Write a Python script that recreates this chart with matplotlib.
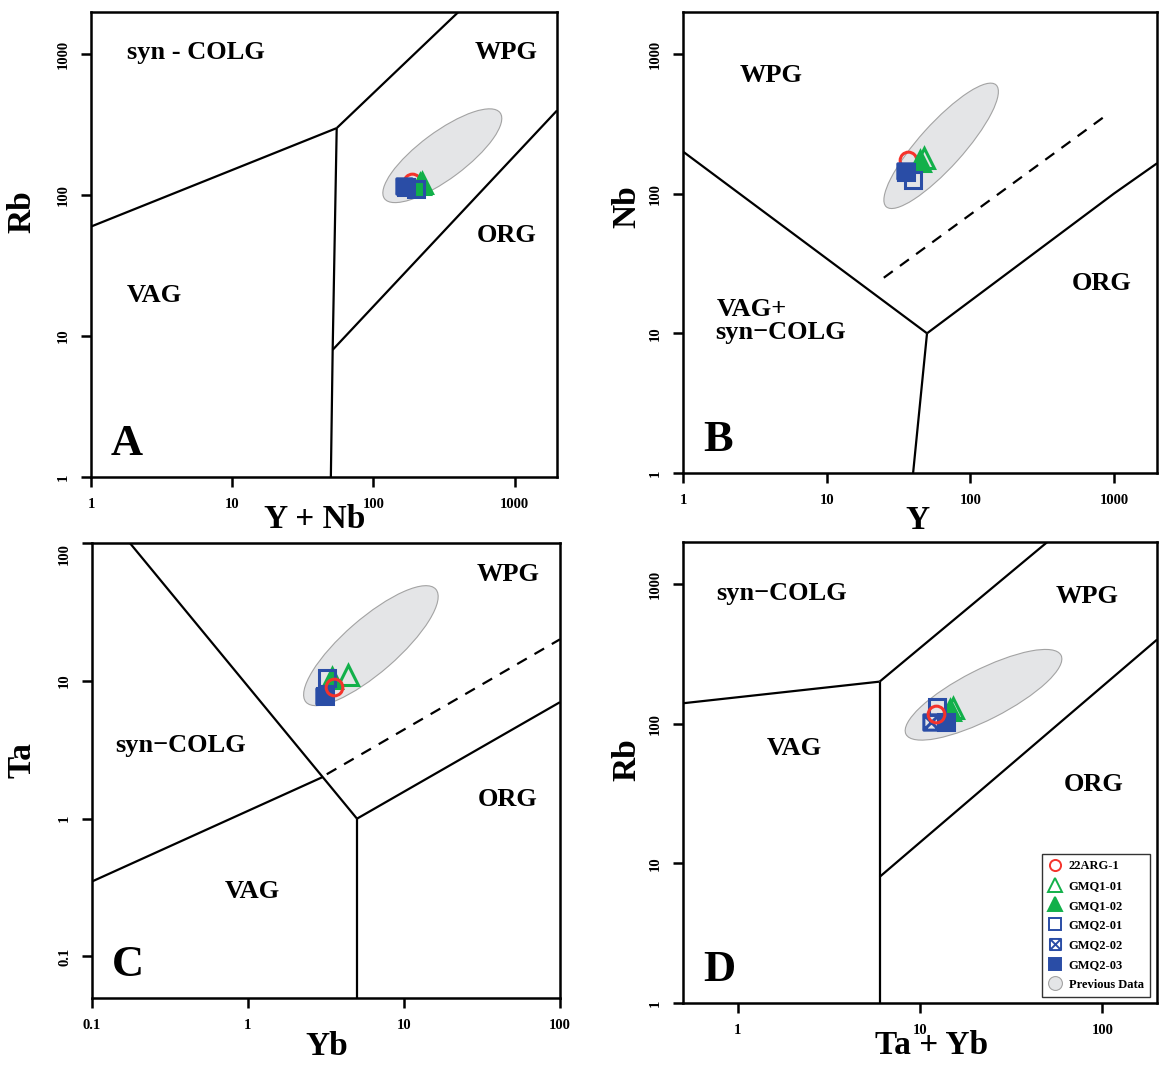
#! /usr/bin/env python
"""
plot.py - Pearce et al. (1984) granite discrimination diagrams
"""

import numpy as np
import matplotlib
matplotlib.use('Agg')
import matplotlib.pyplot as plt
from matplotlib.path import Path
from matplotlib.patches import Ellipse
from matplotlib.lines import Line2D
from matplotlib import transforms
from matplotlib.ticker import FixedLocator, FixedFormatter, NullLocator

plt.rcParams['font.family'] = ['Liberation Serif', 'DejaVu Serif']
plt.rcParams['font.weight'] = 'bold'
plt.rcParams['axes.labelweight'] = 'bold'

samples = ['22ARG-1', 'GMQ1-01', 'GMQ1-02', 'GMQ2-01', 'GMQ2-02', 'GMQ2-03']

# sample values, same order as samples
a_x = [189, 222, 215, 199, 166, 170]        # Y + Nb
a_y = [125, 123, 121, 110, 117, 115]        # Rb
b_x = [36.8, 47.5, 45.0, 39.9, 35.1, 35.5]  # Y
b_y = [175, 181, 172, 126, 146, 144]        # Nb
c_x = [3.56, 4.37, 3.45, 3.21, 3.07, 3.10]  # Yb
c_y = [8.98, 11.0, 10.4, 10.4, 7.73, 7.80]  # Ta
d_x = [12.3, 15.2, 14.6, 12.4, 11.5, 13.9]  # Ta + Yb
d_y = [118, 130, 126, 132, 102, 102]        # Rb

# field boundaries
a_lines = [([1, 55], [60, 300]),
           ([55, 400], [300, 2000]),
           ([55, 51.5, 50], [300, 8, 1]),
           ([51.5, 2000], [8, 400])]
b_lines = [([1, 50], [200, 10]),
           ([50, 1000, 2000], [10, 100, 165]),
           ([50, 40], [10, 1])]
b_dash = ([25, 920], [25, 375])
c_lines = [([0.175, 5], [100, 1]),
           ([0.1, 3], [0.35, 2]),
           ([5, 5], [1, 0.05]),
           ([5, 100], [1, 7])]
c_dash = ([3.2, 100], [2.1, 20])
d_lines = [([0.5, 6], [140, 200]),
           ([6, 50], [200, 2000]),
           ([6, 6], [200, 1]),
           ([6, 200], [8, 400])]

# previous data field: centre (data), semi axes (px), angle (deg)
a_ell = (308, 191, 72, 23.5, 36.6)
b_ell = (62.7, 220, 82, 22, 48)
c_ell = (6.14, 18.0, 86, 27, 41)
d_ell = (22.3, 161, 87, 25, 27)

a_ticks = ([1, 10, 100, 1000], [1, 10, 100, 1000])
b_ticks = ([1, 10, 100, 1000], [1, 10, 100, 1000])
c_ticks = ([0.1, 1, 10, 100], [0.1, 1, 10, 100])
d_ticks = ([1, 10, 100], [1, 10, 100, 1000])

a_fields = [('syn - COLG', 0.077, 0.914), ('WPG', 0.824, 0.914),
            ('ORG', 0.828, 0.520), ('VAG', 0.077, 0.391)]
b_fields = [('WPG', 0.120, 0.863), ('VAG+', 0.072, 0.354),
            ('syn\u2212COLG', 0.068, 0.304), ('ORG', 0.819, 0.410)]
c_fields = [('WPG', 0.823, 0.930), ('syn\u2212COLG', 0.049, 0.556),
            ('ORG', 0.825, 0.437), ('VAG', 0.284, 0.233)]
d_fields = [('syn\u2212COLG', 0.070, 0.889), ('WPG', 0.785, 0.881),
            ('VAG', 0.177, 0.551), ('ORG', 0.804, 0.473)]

red = '#f5332b'
green = '#12b04a'
blue = '#2a4da6'

xsq = Path([(-1, -1), (1, -1), (1, 1), (-1, 1), (-1, -1),
            (-1, -1), (1, 1), (-1, 1), (1, -1)],
           [Path.MOVETO, Path.LINETO, Path.LINETO, Path.LINETO, Path.CLOSEPOLY,
            Path.MOVETO, Path.LINETO, Path.MOVETO, Path.LINETO])

styles = [dict(marker='o', mfc='none', mec=red),
          dict(marker='^', mfc='none', mec=green),
          dict(marker='^', mfc=green, mec=green),
          dict(marker='s', mfc='none', mec=blue),
          dict(marker=xsq, mfc='none', mec=blue),
          dict(marker='s', mfc=blue, mec=blue)]
sizes = [12, 15, 15, 11, 11, 11]


def _plot_axis(fig, ax, xs, ys, lines, dash, ell, ticks, fields, letter,
               xlabel, ylabel, xlim, ylim, xlab_pos, ylab_pos, circle_top):
    ax.set_xscale('log')
    ax.set_yscale('log')
    ax.set_xlim(xlim)
    ax.set_ylim(ylim)

    cx, cy, sa, sb, ang = ell
    trans = fig.dpi_scale_trans + transforms.ScaledTranslation(cx, cy, ax.transData)
    ax.add_patch(Ellipse((0, 0), 2 * sa / fig.dpi, 2 * sb / fig.dpi, angle=ang,
                         transform=trans, facecolor='#e4e5e7',
                         edgecolor='#a3a3a3', lw=0.8, zorder=1))

    for lx, ly in lines:
        ax.plot(lx, ly, color='k', lw=1.6, zorder=2, solid_capstyle='butt')
    if dash is not None:
        ax.plot(dash[0], dash[1], color='k', lw=1.6, ls=(0, (5, 4)), zorder=2)

    for i in range(len(samples)):
        z = 4 + i
        if i == 0:
            z = 12 if circle_top else 3
        ax.plot(xs[i], ys[i], ls='none', ms=sizes[i], mew=2.2, zorder=z,
                **styles[i])

    for txt, fx, fy in fields:
        ax.text(fx, fy, txt, transform=ax.transAxes, fontsize=19,
                ha='left', va='center')
    ax.text(0.043, 0.072, letter, transform=ax.transAxes, fontsize=32,
            ha='left', va='center')

    ax.xaxis.set_major_locator(FixedLocator(ticks[0]))
    ax.xaxis.set_major_formatter(FixedFormatter(['%g' % v for v in ticks[0]]))
    ax.yaxis.set_major_locator(FixedLocator(ticks[1]))
    ax.yaxis.set_major_formatter(FixedFormatter(['%g' % v for v in ticks[1]]))
    ax.xaxis.set_minor_locator(NullLocator())
    ax.yaxis.set_minor_locator(NullLocator())
    ax.tick_params(direction='out', length=7, width=1.8, labelsize=10.5, pad=8)
    ax.tick_params(axis='y', labelrotation=90)
    for lab in ax.get_yticklabels():
        lab.set_va('center')
    for sp in ax.spines.values():
        sp.set_linewidth(1.8)

    ax.set_xlabel(xlabel, fontsize=24, fontweight='bold', va='center')
    ax.set_ylabel(ylabel, fontsize=24, fontweight='bold', va='center')
    ax.xaxis.set_label_coords(*xlab_pos)
    ax.yaxis.set_label_coords(*ylab_pos)


fig = plt.figure(figsize=(11.67, 10.66), dpi=100)
ax_a = fig.add_axes([0.0780, 0.5525, 0.3993, 0.4362])
ax_b = fig.add_axes([0.5853, 0.5563, 0.4062, 0.4325])
ax_c = fig.add_axes([0.0788, 0.0638, 0.4010, 0.4268])
ax_d = fig.add_axes([0.5853, 0.0591, 0.4062, 0.4325])

_plot_axis(fig, ax_a, a_x, a_y, a_lines, None, a_ell, a_ticks, a_fields, 'A',
           'Y + Nb', 'Rb', (1, 2000), (1, 2000), (0.481, -0.092),
           (-0.148, 0.570), False)
_plot_axis(fig, ax_b, b_x, b_y, b_lines, b_dash, b_ell, b_ticks, b_fields, 'B',
           'Y', 'Nb', (1, 2000), (1, 2000), (0.494, -0.102),
           (-0.118, 0.577), False)
_plot_axis(fig, ax_c, c_x, c_y, c_lines, c_dash, c_ell, c_ticks, c_fields, 'C',
           'Yb', 'Ta', (0.1, 100), (0.05, 100), (0.502, -0.107),
           (-0.150, 0.523), True)
_plot_axis(fig, ax_d, d_x, d_y, d_lines, None, d_ell, d_ticks, d_fields, 'D',
           'Ta + Yb', 'Rb', (0.5, 200), (1, 2000), (0.525, -0.093),
           (-0.118, 0.527), True)

# top label of panel C sits below the tick
ax_c.get_yticklabels()[-1].set_va('top')

handles = [Line2D([], [], ls='none', ms=8, mew=1.4, **st) for st in styles]
handles[1].set_markersize(10)
handles[2].set_markersize(10)
handles.append(Line2D([], [], ls='none', marker='o', ms=10, mfc='#e4e5e7',
                      mec='#a3a3a3', mew=0.8))
leg = ax_d.legend(handles, samples + ['Previous Data'], loc='upper right',
                  bbox_to_anchor=(0.985, 0.323), fontsize=9, frameon=True,
                  fancybox=False, edgecolor='#333333', framealpha=1,
                  borderpad=0.5, labelspacing=0.62, handlelength=1.0,
                  handletextpad=0.6, borderaxespad=0)
leg.get_frame().set_linewidth(1.0)
leg.set_zorder(20)

fig.savefig('out.png', dpi=100)
plt.close(fig)
